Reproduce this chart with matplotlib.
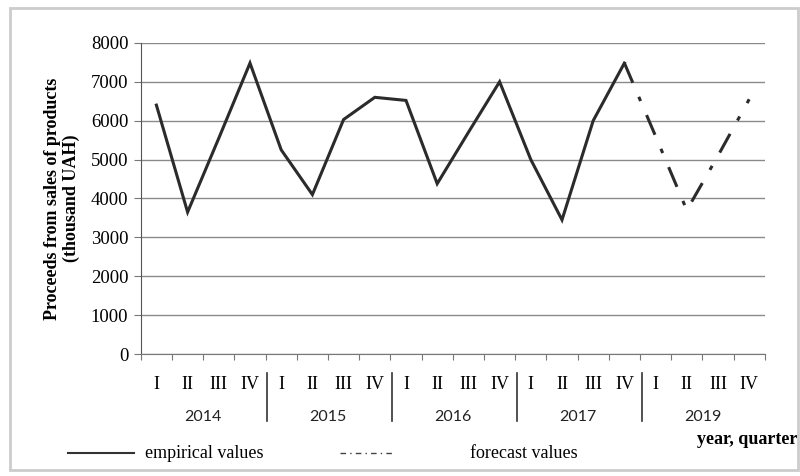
import matplotlib.pyplot as plt
from matplotlib.lines import Line2D
from matplotlib.patches import Rectangle
import matplotlib.transforms as mtransforms

# quarterly proceeds, thousand UAH
years = ['2014', '2015', '2016', '2017', '2019']
quarters = ['I', 'II', 'III', 'IV']
empirical = [6400, 3650, 5550, 7480, 5250, 4100, 6030, 6600,
             6520, 4380, 5700, 7000, 5000, 3450, 6000, 7480]
forecast = [5600, 3700, 5100, 6550]

serif = 'Liberation Serif'
sans = 'Lato'

fig = plt.figure(figsize=(8, 4.76), dpi=100)
ax = fig.add_axes([0.176, 0.256, 0.78, 0.654])

x_emp = list(range(len(empirical)))
x_fc = list(range(len(empirical) - 1, len(empirical) + len(forecast)))
y_fc = [empirical[-1]] + forecast

ax.plot(x_emp, empirical, color='#2b2b2b', lw=2.2, solid_joinstyle='miter')
ax.plot(x_fc, y_fc, color='#2b2b2b', lw=2.2, dashes=(7, 5, 1.5, 5))

n = len(years) * len(quarters)
ax.set_xlim(-0.5, n - 0.5)
ax.set_ylim(0, 8000)
ax.set_yticks(range(0, 8001, 1000))
ax.grid(axis='y', color='#8a8a8a', lw=1.0)
ax.set_axisbelow(True)

for s in ['top', 'right']:
    ax.spines[s].set_visible(False)
ax.spines['left'].set_color('#555555')
ax.spines['bottom'].set_color('#777777')

ax.set_xticks([i - 0.5 for i in range(n + 1)])
ax.set_xticklabels([])
ax.set_xticks(range(n), minor=True)
ax.set_xticklabels(quarters * len(years), minor=True, fontfamily=serif, fontsize=13)
ax.tick_params(axis='x', which='major', length=4, color='#777777')
ax.tick_params(axis='x', which='minor', length=0, pad=16)
ax.tick_params(axis='y', length=5, color='#777777', labelsize=13.5, pad=4)
for lab in ax.get_yticklabels():
    lab.set_fontfamily(serif)

trans = mtransforms.blended_transform_factory(ax.transData, ax.transAxes)
for i, yr in enumerate(years):
    ax.text(i * 4 + 1.5, -0.203, yr, transform=trans, ha='center', va='center',
            fontfamily=sans, fontsize=11.5, color='#222222')
    if i > 0:
        ax.add_line(Line2D([i * 4 - 0.45, i * 4 - 0.45], [-0.06, -0.215], transform=trans,
                           color='#333333', lw=1.2, clip_on=False))

ax.set_ylabel('Proceeds from sales of products\n(thousand UAH)', fontfamily=serif,
              fontsize=13, fontweight='bold', labelpad=8, linespacing=1.1)

# legend drawn below the axis like the original
fig.add_artist(Line2D([0.085, 0.168], [0.048, 0.048], color='#333333', lw=1.5))
fig.text(0.181, 0.048, 'empirical values', fontfamily=serif, fontsize=13, va='center')
fig.add_artist(Line2D([0.425, 0.493], [0.048, 0.048], color='#444444', lw=1.0,
                      dashes=(4, 3, 1, 3)))
fig.text(0.588, 0.048, 'forecast values', fontfamily=serif, fontsize=13, va='center')
fig.text(0.871, 0.076, 'year, quarter', fontfamily=serif, fontsize=13,
         fontweight='bold', va='center')

fig.add_artist(Rectangle((0.013, 0.012), 0.984, 0.972, transform=fig.transFigure,
                         fill=False, edgecolor='#cccccc', lw=2))

fig.savefig('out.png', dpi=100)
